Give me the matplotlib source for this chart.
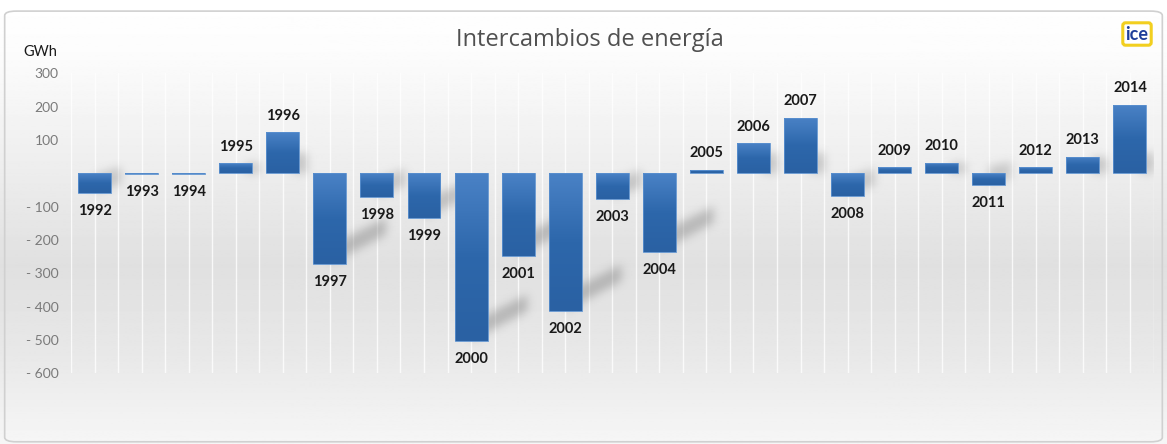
import numpy as np
import matplotlib.pyplot as plt
from matplotlib.patches import FancyBboxPatch
from matplotlib.path import Path
from matplotlib.colors import LinearSegmentedColormap

years = ['1992', '1993', '1994', '1995', '1996', '1997', '1998', '1999', '2000',
         '2001', '2002', '2003', '2004', '2005', '2006', '2007', '2008', '2009',
         '2010', '2011', '2012', '2013', '2014']
gwh = [-60, -2, -2, 30, 123, -273, -71, -134, -504,
       -248, -414, -76, -235, 11, 90, 166, -67, 18,
       32, -36, 18, 50, 205]
yticks = [300, 200, 100, -100, -200, -300, -400, -500, -600]
ytick_labels = ['300', '200', '100', '- 100', '- 200', '- 300', '- 400', '- 500', '- 600']

W, H = 1167, 444
fig = plt.figure(figsize=(W / 100, H / 100), dpi=100)

# background gradient + frame
bg = fig.add_axes([0, 0, 1, 1], zorder=-10)
rows = np.linspace(0, 1, 400)
shade = np.interp(rows, [0, 0.12, 0.4, 0.6, 0.8, 1.0], [255, 252, 236, 224, 232, 246])
img = np.repeat(shade[:, None], 2, axis=1)
bg.imshow(img, cmap='gray', vmin=0, vmax=255, aspect='auto', extent=[0, 1, 0, 1], origin='upper')
bg.add_patch(FancyBboxPatch((0.004, 0.005), 0.992, 0.97, boxstyle='round,pad=0,rounding_size=0.01',
                            transform=bg.transAxes, fill=False, ec='#d0d0d0', lw=1.2))
bg.set_xlim(0, 1)
bg.set_ylim(0, 1)
bg.axis('off')

ax = fig.add_axes([71 / W, 1 - 373.3 / H, (1153.5 - 71) / W, 300 / H])
ax.patch.set_alpha(0)
x = np.arange(len(years))
xlim = (-0.5, len(years) - 0.5)
ylim = (-600, 300)

# vertical grid at centres and boundaries
for g in np.arange(-0.5, len(years), 0.5):
    ax.axvline(g, color='white', lw=1.0, alpha=0.8, zorder=0)

# blurred diagonal shadows
nx, ny = 1082, 300
gx = np.linspace(xlim[0], xlim[1], nx)
gy = np.linspace(ylim[1], ylim[0], ny)
XX, YY = np.meshgrid(gx, gy)
pts = np.column_stack([XX.ravel(), YY.ravel()])
mask = np.zeros(nx * ny)
for xi, v in zip(x, gwh):
    if v < -20:
        f = min(1.0, abs(v) / 250)
        L = 0.35 + 0.85 * f
        poly = [(xi, v), (xi + L, v + 80 * f + 10), (xi + L, v + 80 * f + 60), (xi, v + 55)]
        weight = 0.7 + 0.3 * f
    elif v > 20:
        poly = [(xi + 0.2, 0), (xi + 0.5, 0), (xi + 0.5, min(v, 60)), (xi + 0.2, min(v, 60))]
        weight = 0.8
    else:
        continue
    mask = np.maximum(mask, weight * Path(poly).contains_points(pts).astype(float))
mask = mask.reshape(ny, nx)
k = np.exp(-0.5 * (np.arange(-12, 13) / 4.5) ** 2)
k /= k.sum()
mask = np.apply_along_axis(lambda r: np.convolve(r, k, mode='same'), 1, mask)
mask = np.apply_along_axis(lambda c: np.convolve(c, k, mode='same'), 0, mask)
shadow = np.zeros((ny, nx, 4))
shadow[..., :3] = 0.45
shadow[..., 3] = mask * 0.4
ax.imshow(shadow, extent=[xlim[0], xlim[1], ylim[0], ylim[1]], aspect='auto',
          origin='upper', zorder=1, interpolation='bilinear')

# bars with vertical gradient
blue = LinearSegmentedColormap.from_list('bl', ['#4a82c6', '#2d67ab', '#2a61a3'])
bars = ax.bar(x, gwh, width=0.7, color='none', edgecolor='#5a90cf', lw=0.6, zorder=4)
grad = np.linspace(0, 1, 100)[:, None]
for b, v in zip(bars, gwh):
    x0 = b.get_x()
    x1 = x0 + b.get_width()
    y0, y1 = min(0, v), max(0, v)
    im = ax.imshow(grad, cmap=blue, aspect='auto', extent=[x0, x1, y0, y1],
                   origin='upper', zorder=3)
    im.set_clip_path(b)

for xi, v in zip(x, gwh):
    if v >= 0:
        ax.annotate(years[xi], (xi, v), xytext=(0, 7), textcoords='offset points',
                    ha='center', va='bottom', fontsize=10.5, fontweight='bold',
                    family='Lato', color='#1a1a1a', zorder=5)
    else:
        ax.annotate(years[xi], (xi, v), xytext=(0, -8), textcoords='offset points',
                    ha='center', va='top', fontsize=10.5, fontweight='bold',
                    family='Lato', color='#1a1a1a', zorder=5)

ax.set_xlim(*xlim)
ax.set_ylim(*ylim)
ax.set_xticks([])
ax.set_yticks(yticks)
ax.set_yticklabels(ytick_labels, family='Lato', fontsize=10, color='#7a7a7a')
ax.tick_params(axis='y', length=0, pad=9)
for s in ax.spines.values():
    s.set_visible(False)

fig.text(590 / W, 1 - 40 / H, 'Intercambios de energía', ha='center', va='center',
         fontsize=17, family='Open Sans', color='#505050')
fig.text(40 / W, 1 - 52 / H, 'GWh', ha='center', va='center', fontsize=10.5,
         family='Lato', color='#1a1a1a')
fig.text(1137 / W, 1 - 34 / H, 'ice', ha='center', va='center', fontsize=13,
         family='Lato', fontweight='bold', color='#1f3f9a',
         bbox=dict(boxstyle='round,pad=0.15', fc='white', ec='#f2cf1f', lw=2.2))

fig.savefig('out.png', dpi=100)
